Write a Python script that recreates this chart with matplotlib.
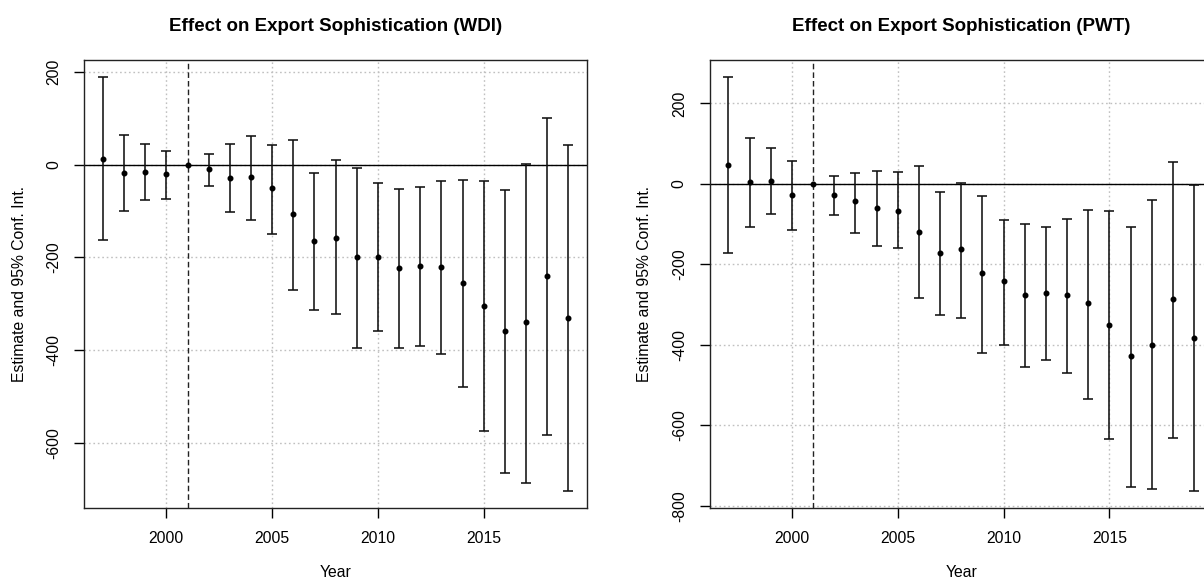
import numpy as np
import matplotlib
matplotlib.use("Agg")
import matplotlib.pyplot as plt

plt.rcParams['font.family'] = ['Liberation Sans', 'DejaVu Sans']

# Jahre (Referenzjahr 2001 ohne Intervall)
jahre = [1997, 1998, 1999, 2000, 2001, 2002, 2003, 2004, 2005, 2006, 2007, 2008,
         2009, 2010, 2011, 2012, 2013, 2014, 2015, 2016, 2017, 2018, 2019]

# WDI: Schaetzer und 95%-Intervall
wdi_est = [13, -18, -15, -21, 0, -9, -29, -26, -51, -107, -165, -157,
           -200, -198, -223, -218, -221, -254, -304, -359, -340, -240, -331]
wdi_lo = [-163, -100, -77, -75, np.nan, -47, -102, -119, -149, -269, -313, -322,
          -394, -358, -396, -391, -407, -480, -574, -665, -685, -582, -704]
wdi_hi = [189, 64, 45, 29, np.nan, 22, 45, 61, 42, 53, -19, 9,
          -8, -39, -52, -48, -36, -33, -36, -55, 2, 100, 42]

# PWT: Schaetzer und 95%-Intervall
pwt_est = [46, 4, 8, -27, 0, -27, -43, -59, -66, -120, -171, -162,
           -222, -242, -277, -271, -277, -296, -351, -428, -399, -286, -382]
pwt_lo = [-172, -108, -74, -115, np.nan, -76, -121, -153, -160, -284, -326, -333,
          -419, -400, -454, -438, -470, -534, -634, -752, -758, -630, -764]
pwt_hi = [266, 115, 89, 58, np.nan, 19, 28, 32, 29, 45, -19, 3,
          -30, -89, -99, -106, -86, -64, -67, -106, -41, 55, -2]

ref_jahr = 2001

fig = plt.figure(figsize=(12.04, 5.82), dpi=100)
ax1 = fig.add_axes([0.0700, 0.1271, 0.4175, 0.7693])
ax2 = fig.add_axes([0.5895, 0.1271, 0.4178, 0.7693])


def panel(ax, est, lo, hi, titel, yticks):
    x = np.array(jahre)
    est = np.array(est, dtype=float)
    lo = np.array(lo, dtype=float)
    hi = np.array(hi, dtype=float)
    m = ~np.isnan(lo)

    # Achsenbereich wie in R (4% Erweiterung)
    ylo, yhi = np.nanmin(lo), np.nanmax(hi)
    dy = 0.04 * (yhi - ylo)
    dx = 0.04 * (x.max() - x.min())
    ax.set_xlim(x.min() - dx, x.max() + dx)
    ax.set_ylim(ylo - dy, yhi + dy)

    # Gitter (grau gepunktet)
    for xv in [2000, 2005, 2010, 2015]:
        ax.axvline(xv, color='#c0c0c0', lw=1.0, dashes=(1.2, 2.0), zorder=1)
    for yv in yticks:
        ax.axhline(yv, color='#c0c0c0', lw=1.0, dashes=(1.2, 2.0), zorder=1)

    ax.axhline(0, color='black', lw=1.0, zorder=2)
    ax.axvline(ref_jahr, color='#222222', lw=1.0, dashes=(4, 2.2), zorder=2)

    ax.errorbar(x[m], est[m], yerr=[est[m] - lo[m], hi[m] - est[m]], fmt='none',
                ecolor='#111111', elinewidth=1.15, capsize=3.6, capthick=1.15, zorder=3)
    ax.plot(x, est, 'o', color='black', markersize=3.3, zorder=4)

    ax.set_title(titel, fontsize=13.5, fontweight='bold', pad=21)
    ax.set_xlabel('Year', fontsize=11.3, labelpad=14)
    ax.set_ylabel('Estimate and 95% Conf. Int.', fontsize=11.3, labelpad=14)
    ax.set_xticks([2000, 2005, 2010, 2015])
    ax.set_yticks(yticks)
    ax.set_yticklabels([str(v) for v in yticks], rotation=90, va='center')
    ax.tick_params(axis='both', length=7.5, width=1.0, labelsize=11.3, pad=9)
    for s in ax.spines.values():
        s.set_linewidth(1.0)
        s.set_color('#222222')


panel(ax1, wdi_est, wdi_lo, wdi_hi, 'Effect on Export Sophistication (WDI)',
      [200, 0, -200, -400, -600])
panel(ax2, pwt_est, pwt_lo, pwt_hi, 'Effect on Export Sophistication (PWT)',
      [200, 0, -200, -400, -600, -800])

fig.savefig('out.png', dpi=100)
